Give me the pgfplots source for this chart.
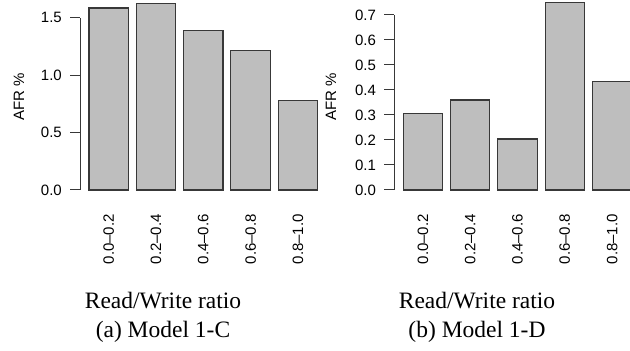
\documentclass[border=0pt]{standalone}
\usepackage{fontspec}
\setmainfont{Liberation Serif}
\setsansfont{Liberation Sans}
\usepackage{pgfplots}
\pgfplotsset{compat=1.18}
\definecolor{barfill}{HTML}{BEBEBE}
\definecolor{edge}{HTML}{383838}
\pgfplotsset{
  rwbar/.style={
    scale only axis,
    width=246.6pt,
    enlargelimits=false,
    clip=false,
    axis lines*=left,
    x axis line style={draw=none},
    y axis line style={draw=edge, line width=1pt},
    xmin=-0.607, xmax=4.607,
    xtick={0,1,2,3,4},
    xticklabels={0.0--0.2,0.2--0.4,0.4--0.6,0.6--0.8,0.8--1.0},
    xtick style={draw=none},
    ytick style={draw=edge, line width=1pt},
    tick align=outside,
    major tick length=10pt,
    xticklabel style={rotate=90, anchor=east, inner sep=0pt, font=\fontsize{15}{16}\selectfont\sffamily},
    yticklabel style={anchor=east, inner sep=0pt, font=\fontsize{15}{16}\selectfont\sffamily},
    xticklabel shift=14pt,
    yticklabel shift=8pt,
    /pgf/number format/assume math mode=true,
    /pgf/number format/.cd, fixed, fixed zerofill, precision=1,
    /pgfplots/.cd,
    ybar,
    bar width=39.4pt,
  },
  rwplot/.style={fill=barfill, draw=edge, line width=1.1pt},
}
\begin{document}
\begin{tikzpicture}
\begin{axis}[rwbar, at={(80pt,161pt)}, anchor=south west,
  height=172.2pt, ymin=0, ymax=1.5, ytick={0,0.5,1,1.5}]
\addplot[rwplot] coordinates {(0,1.585) (1,1.625) (2,1.39) (3,1.215) (4,0.78)};
\end{axis}
\begin{axis}[rwbar, at={(394.2pt,161pt)}, anchor=south west,
  height=175pt, ymin=0, ymax=0.7, ytick={0,0.1,0.2,0.3,0.4,0.5,0.6,0.7}]
\addplot[rwplot] coordinates {(0,0.307) (1,0.36) (2,0.204) (3,0.749) (4,0.433)};
\end{axis}
\node[rotate=90, font=\fontsize{15}{16}\selectfont\sffamily] at (19pt,254pt) {AFR \%};
\node[rotate=90, font=\fontsize{15}{16}\selectfont\sffamily] at (331pt,254pt) {AFR \%};
\node[anchor=base, inner sep=0pt, font=\fontsize{23.5}{26}\selectfont] at (163pt,42pt) {Read/Write ratio};
\node[anchor=base, inner sep=0pt, font=\fontsize{23.5}{26}\selectfont] at (163pt,13pt) {(a) Model 1-C};
\node[anchor=base, inner sep=0pt, font=\fontsize{23.5}{26}\selectfont] at (477pt,42pt) {Read/Write ratio};
\node[anchor=base, inner sep=0pt, font=\fontsize{23.5}{26}\selectfont] at (477pt,13pt) {(b) Model 1-D};
\pgfresetboundingbox
\path[use as bounding box] (0,0) rectangle (630pt,351pt);
\end{tikzpicture}
\end{document}
